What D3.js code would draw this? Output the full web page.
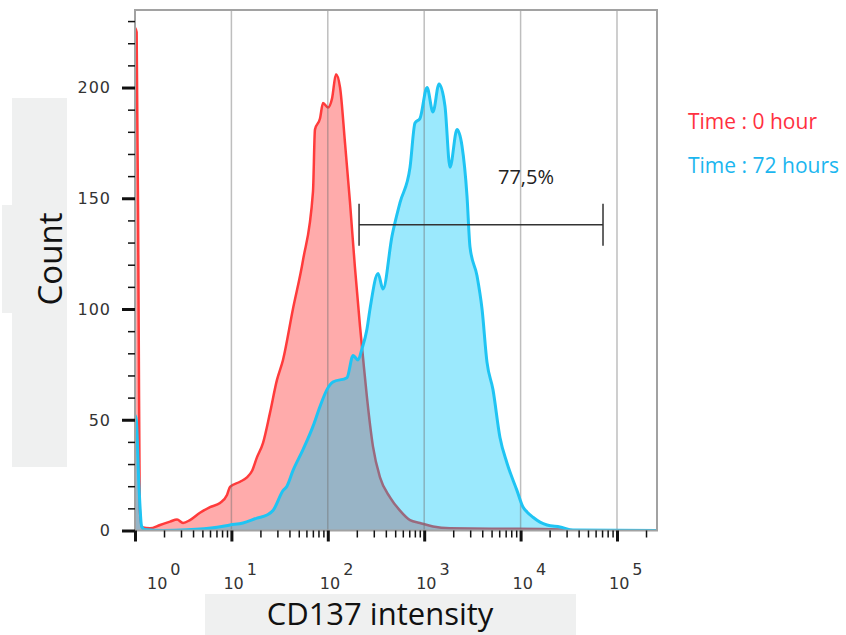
<!DOCTYPE html>
<html>
<head>
<meta charset="utf-8">
<script src="https://cdn.jsdelivr.net/npm/d3@7"></script>
<style>
body { margin: 0; background: #fff; }
#myPlot { width: 846px; height: 635px; }
</style>
</head>
<body>
<div id="myPlot"></div>
<script>
// Time 0 hour histogram (intensity, count)
const hour0Intensity = [1, 1.04, 1.09, 1.12, 1.18, 1.43, 1.82, 2.31, 2.73, 3.15, 3.72, 4.72, 6.0, 7.62, 9.0, 9.67,
    12.3, 14.5, 16.4, 18.4, 21.3, 25.1, 29.7, 34.3, 43.5, 55.3, 70.2, 73.6, 83, 89.2, 100.5, 110.6, 121.6, 134,
    150.8, 170, 191, 216, 232, 255, 294, 348, 442, 561, 713, 904, 1233, 1853, 6110, 25650, 41300, 260000]
const hour0Count = [227, 225, 100, 10, 1.5, 1, 2.5, 4, 5, 3.4, 4.7, 8, 10.6, 12.4, 16, 19.7,
    22, 24, 27, 33, 39.6, 53, 68, 77, 100, 122, 153, 181, 186, 193, 191, 195, 206, 200,
    175, 148, 119, 92, 78, 60, 38, 24, 15, 9, 4.7, 3.4, 1.8, 1, 0.8, 0.5, 0, 0]

// Time 72 hours histogram (intensity, count)
const hour72Intensity = [1, 1.03, 1.1, 1.17, 1.25, 1.95, 3.46, 7.1, 9.67, 13.2, 18.4, 23.4, 27, 34.3, 37.7, 43.5,
    55.3, 70.2, 83, 98, 113, 158, 183, 206, 226, 255, 274, 332, 374, 464, 561, 713, 803, 904, 1070, 1233,
    1425, 1643, 1853, 2190, 2467, 2780, 2986, 3530, 3980, 4480, 5170, 6110, 7220, 9180, 10590, 11650,
    13450, 15900, 18800, 25650, 35000, 260000]
const hour72Count = [52, 50, 20, 2, 0.5, 0, 0.3, 1.5, 2.5, 3.4, 5.6, 7, 9, 18, 20, 27,
    36.5, 47, 56, 63.6, 67, 69, 79, 77, 82, 91, 100, 116, 109, 133, 148, 164, 184, 186, 200, 189,
    201.6, 191.6, 164, 181, 173.6, 151, 128, 115, 100, 76, 63.6, 42, 30.5, 18, 10.6, 8.4,
    6, 3.8, 2.5, 1.6, 0.2, 0]

const xDomain = [1, 260000]
const yDomain = [0, 235]
const decades = [1, 10, 100, 1000, 10000, 100000]
const yMajorTicks = [0, 50, 100, 150, 200]
const yMinorTicks = d3.range(0, 231, 10)
const gate = {min: 211, max: 71600, count: 138, label: "77,5%"}
const legendLabels = ["Time : 0 hour", "Time : 72 hours"]
const legendColors = ["#ff3040", "#1bb6ef"]

const margin = {top: 10, left: 135}
const width = 522
const height = 520.5

const svg = d3.select("#myPlot").append("svg")
    .attr("width", 846)
    .attr("height", 635)

// grey label boxes
svg.append("rect").attr("x", 12).attr("y", 98).attr("width", 55).attr("height", 369).attr("fill", "#eff0f0")
svg.append("rect").attr("x", 2).attr("y", 205).attr("width", 65).attr("height", 108).attr("fill", "#eff0f0")
svg.append("rect").attr("x", 205).attr("y", 594).attr("width", 371).attr("height", 41).attr("fill", "#eff0f0")

svg.append("text")
    .attr("transform", "translate(62, 259) rotate(-90)")
    .attr("text-anchor", "middle")
    .attr("font-family", "Open Sans")
    .attr("font-size", 33)
    .attr("fill", "#111")
    .text("Count")

svg.append("text")
    .attr("x", 380)
    .attr("y", 625)
    .attr("text-anchor", "middle")
    .attr("font-family", "Open Sans")
    .attr("font-size", 31)
    .attr("fill", "#111")
    .text("CD137 intensity")

const g = svg.append("g")
    .attr("transform", `translate(${margin.left}, ${margin.top})`)

const x = d3.scaleLog().domain(xDomain).range([0, width])
const y = d3.scaleLinear().domain(yDomain).range([height, 0])

const hour0 = hour0Intensity.map((v, i) => [v, hour0Count[i]])
const hour72 = hour72Intensity.map((v, i) => [v, hour72Count[i]])

const area = d3.area()
    .x(d => x(d[0]))
    .y0(y(0))
    .y1(d => y(d[1]))
    .curve(d3.curveMonotoneX)

const line = d3.line()
    .x(d => x(d[0]))
    .y(d => y(d[1]))
    .curve(d3.curveMonotoneX)

const defs = svg.append("defs")
defs.append("clipPath").attr("id", "clipRed")
    .append("path").attr("d", area(hour0))
defs.append("clipPath").attr("id", "clipCyan")
    .append("path").attr("d", area(hour72))
defs.append("clipPath").attr("id", "clipPlot")
    .append("rect").attr("x", 0).attr("y", 0).attr("width", width).attr("height", height)

const plot = g.append("g").attr("clip-path", "url(#clipPlot)")

plot.append("path").attr("d", area(hour0)).attr("fill", "#ffabab")
plot.append("path").attr("d", line(hour0))
    .attr("fill", "none").attr("stroke", "#ff3b3b").attr("stroke-width", 2.5)
plot.append("path").attr("d", area(hour72)).attr("fill", "#9be9fd")
plot.append("path").attr("d", area(hour72)).attr("fill", "#98b4c6")
    .attr("clip-path", "url(#clipRed)")
plot.append("path").attr("d", line(hour0))
    .attr("fill", "none").attr("stroke", "#9a6a7e").attr("stroke-width", 2.5)
    .attr("clip-path", "url(#clipCyan)")

// decade grid lines
plot.selectAll(".grid")
    .data(decades.slice(1))
    .enter().append("line")
    .attr("class", "grid")
    .attr("x1", d => x(d)).attr("x2", d => x(d))
    .attr("y1", 0).attr("y2", height)
    .attr("stroke", "rgba(110,110,110,0.45)")
    .attr("stroke-width", 1.5)

plot.append("path").attr("d", line(hour72))
    .attr("fill", "none").attr("stroke", "#1fc4f3").attr("stroke-width", 3)

// frame
g.append("rect")
    .attr("width", width).attr("height", height)
    .attr("fill", "none").attr("stroke", "#a2a2a2").attr("stroke-width", 2)

// axes
const xMinor = d3.axisBottom(x)
    .tickValues(x.ticks().filter(v => !decades.includes(v)))
    .tickSize(7).tickFormat("")
const xMajor = d3.axisBottom(x).tickValues(decades).tickSize(11).tickFormat("")
const yMinor = d3.axisLeft(y).tickValues(yMinorTicks).tickSize(7).tickFormat("")
const yMajor = d3.axisLeft(y).tickValues(yMajorTicks).tickSize(13).tickFormat("")

g.append("g").attr("class", "x minor").attr("transform", `translate(0, ${height})`).call(xMinor)
g.append("g").attr("class", "x major").attr("transform", `translate(0, ${height})`).call(xMajor)
g.append("g").attr("class", "y minor").call(yMinor)
g.append("g").attr("class", "y major").call(yMajor)

g.selectAll(".domain").remove()
g.selectAll(".minor .tick line").attr("stroke", "#111").attr("stroke-width", 1.5)
g.selectAll(".major .tick line").attr("stroke", "#111").attr("stroke-width", 3)

// y tick labels
g.selectAll(".ylab")
    .data(yMajorTicks)
    .enter().append("text")
    .attr("class", "ylab")
    .attr("x", -24)
    .attr("y", d => y(d))
    .attr("dy", "0.36em")
    .attr("text-anchor", "end")
    .attr("font-family", "DejaVu Sans")
    .attr("font-size", 16)
    .attr("letter-spacing", 1)
    .attr("fill", "#333")
    .text(d => d)

// x tick labels, 10 with exponent
const xLabels = g.selectAll(".xlab")
    .data(decades)
    .enter().append("text")
    .attr("class", "xlab")
    .attr("x", d => Math.max(x(d) - 8, 12))
    .attr("y", height + 58)
    .attr("font-family", "DejaVu Sans")
    .attr("font-size", 16)
    .attr("fill", "#333")
xLabels.append("tspan").text("10")
xLabels.append("tspan").attr("dx", 3).attr("dy", -14).text(d => Math.round(Math.log10(d)))

// gate bracket
const gy = y(gate.count)
const bracket = g.append("g").attr("stroke", "#333").attr("stroke-width", 1.5)
bracket.append("line").attr("x1", x(gate.min)).attr("x2", x(gate.max)).attr("y1", gy).attr("y2", gy)
bracket.append("line").attr("x1", x(gate.min)).attr("x2", x(gate.min)).attr("y1", gy - 21).attr("y2", gy + 21)
bracket.append("line").attr("x1", x(gate.max)).attr("x2", x(gate.max)).attr("y1", gy - 21).attr("y2", gy + 21)
g.append("text")
    .attr("x", 391)
    .attr("y", gy - 41)
    .attr("text-anchor", "middle")
    .attr("font-family", "Open Sans")
    .attr("font-size", 20)
    .attr("fill", "#222")
    .text(gate.label)

// legend
svg.selectAll(".legend")
    .data(legendLabels)
    .enter().append("text")
    .attr("class", "legend")
    .attr("x", 688)
    .attr("y", (d, i) => 129 + i * 44)
    .attr("font-family", "Open Sans")
    .attr("font-size", 21)
    .attr("fill", (d, i) => legendColors[i])
    .text(d => d)
</script>
</body>
</html>
